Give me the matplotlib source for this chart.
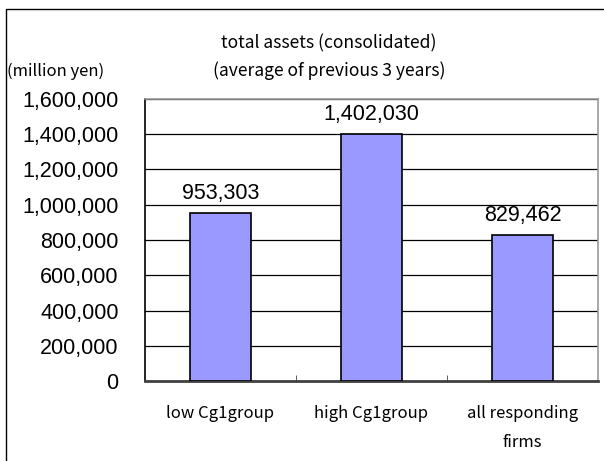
import matplotlib
matplotlib.use("Agg")
import matplotlib.pyplot as plt
from matplotlib.patches import Rectangle
from matplotlib.ticker import FuncFormatter, MultipleLocator

categories = ["low Cg1group", "high Cg1group", "all responding\nfirms"]
values = [953303, 1402030, 829462]
title_lines = ["total assets (consolidated)", "(average of previous 3 years)"]
unit_label = "(million yen)"

fig = plt.figure(figsize=(6.04, 4.61), dpi=100)
fig.patch.set_facecolor("white")
# outer chart frame
fig.patches.append(Rectangle((6/604, -0.05), 1.2, (461-9)/461 + 0.05, transform=fig.transFigure,
                             fill=False, edgecolor="black", linewidth=1.0))

ax = fig.add_axes([145/604, (461-381)/461, (598-145)/604, (381-99)/461])
x = list(range(len(categories)))
ax.bar(x, values, width=0.41, color="#9999FF", edgecolor="black", linewidth=1.2, zorder=3)
ax.set_xlim(-0.5, 2.5)
ax.set_ylim(0, 1600000)
ax.yaxis.set_major_locator(MultipleLocator(200000))
ax.yaxis.set_major_formatter(FuncFormatter(lambda v, p: f"{int(v):,}"))
ax.grid(axis="y", color="black", linewidth=0.9, zorder=0)
ax.set_axisbelow(True)

for s in ["top", "right"]:
    ax.spines[s].set_color("#999999")
    ax.spines[s].set_linewidth(1.2)
ax.spines["left"].set_color("black")
ax.spines["left"].set_linewidth(1.2)
ax.spines["bottom"].set_color("#404040")
ax.spines["bottom"].set_linewidth(2.0)

num_font = "Liberation Sans"
ax.tick_params(axis="y", length=0, pad=19, labelsize=15.5)
for lbl in ax.get_yticklabels():
    lbl.set_fontfamily(num_font)

ax.set_xticks(x)
ax.set_xticklabels(categories, fontfamily="Noto Sans CJK JP", fontsize=12, linespacing=1.95)
ax.tick_params(axis="x", length=0, pad=17)
ax.set_xticks([0.5, 1.5], minor=True)
ax.tick_params(axis="x", which="minor", direction="in", length=4, color="#404040")

for xi, v in zip(x, values):
    ax.annotate(f"{v:,}", (xi, v), xytext=(0, 6.5), textcoords="offset points",
                ha="center", va="bottom", fontsize=15.5, fontfamily=num_font)

fig.text(329/604, 1-43/461, title_lines[0], ha="center", va="center",
         fontsize=12.6, fontfamily="Noto Sans CJK JP")
fig.text(329/604, 1-71/461, title_lines[1], ha="center", va="center",
         fontsize=12.6, fontfamily="Noto Sans CJK JP")
fig.text(7/604, 1-71/461, unit_label, ha="left", va="center",
         fontsize=12, fontfamily="Noto Sans CJK JP")

fig.savefig("out.png", dpi=100)
